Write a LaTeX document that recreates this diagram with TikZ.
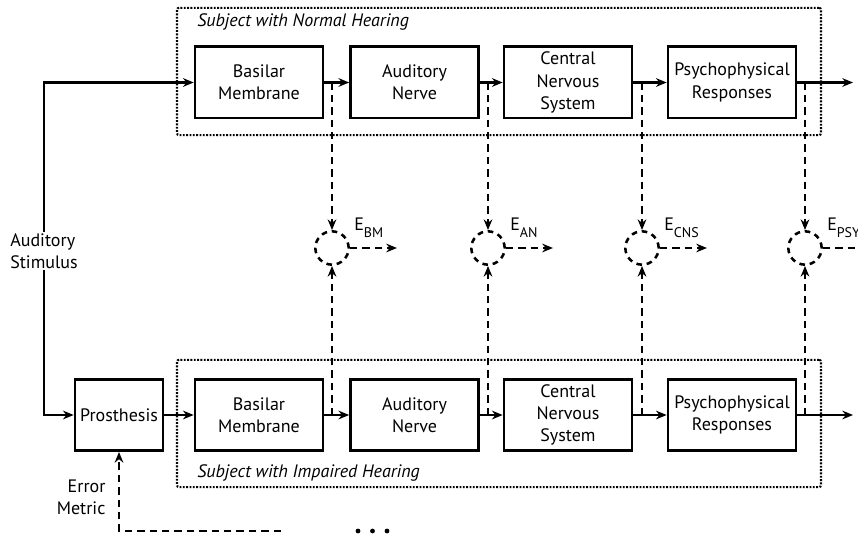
\documentclass[tikz,border=0pt]{standalone}
\usepackage{fontspec}
\setmainfont{PT Sans}
\usetikzlibrary{arrows.meta,calc}
\newcommand\esub[1]{E\raisebox{-0.4em}{\fontsize{10.5}{12}\selectfont #1}}
\tikzset{
  blk/.style={draw, line width=2pt, minimum width=96pt, minimum height=53.5pt, align=center, inner sep=1pt, font=\fontsize{13.5}{16.7}\selectfont},
  grp/.style={draw, line width=1.6pt, dash pattern=on 1.4pt off 1.1pt, rounded corners=1.5pt, minimum width=483pt, minimum height=95.5pt, inner sep=0pt},
  arr/.style={line width=1.6pt, -{Stealth[length=8pt,width=6.5pt]}},
  darr/.style={line width=1.9pt, dash pattern=on 5.5pt off 3.8pt, -{Stealth[length=8pt,width=6.5pt]}},
  cmp/.style={circle, draw, line width=1.9pt, dash pattern=on 4.2pt off 3.6pt, minimum size=25pt, inner sep=0pt},
  lbl/.style={font=\fontsize{13.5}{16.7}\selectfont, inner sep=1pt},
  grplbl/.style={font=\fontsize{13.5}{16}\selectfont\itshape, inner sep=0pt, anchor=west},
  elbl/.style={font=\fontsize{13.5}{16}\selectfont, inner sep=0pt, anchor=south west}
}
\begin{document}
\begin{tikzpicture}[x=0.75pt, y=-0.75pt]
\useasboundingbox (0,0) rectangle (858,535);
% groups
\node[grp] (gtop) at (499,71.5) {};
\node[grp] (gbot) at (499,423.5) {};
\node[grplbl] (ltop) at (197,22) {Subject with Normal Hearing};
\node[grplbl] (lbot) at (197,473) {Subject with Impaired Hearing};
% top row
\node[blk] (bm1) at (259,82.5) {Basilar\\Membrane};
\node[blk] (an1) at (414.5,82.5) {Auditory\\Nerve};
\node[blk] (cns1) at (568,82.5) {Central\\Nervous\\System};
\node[blk] (psy1) at (732,82.5) {Psychophysical\\Responses};
% bottom row
\node[blk, minimum width=66pt] (pro) at (119,415) {Prosthesis};
\node[blk] (bm2) at (259,415) {Basilar\\Membrane};
\node[blk] (an2) at (414.5,415) {Auditory\\Nerve};
\node[blk] (cns2) at (568,415) {Central\\Nervous\\System};
\node[blk] (psy2) at (732,415) {Psychophysical\\Responses};
% stimulus
\node[lbl, align=left] (stim) at (44,251) {Auditory\\Stimulus};
\draw[arr] (stim.north) |- (bm1.west);
\draw[arr] (stim.south) |- (pro.west);
% solid chain arrows
\draw[arr] (bm1) -- (an1);
\draw[arr] (an1) -- (cns1);
\draw[arr] (cns1) -- (psy1);
\coordinate (out1) at (853,82.5);
\draw[arr] (psy1.east) -- (out1);
\draw[arr] (pro) -- (bm2);
\draw[arr] (bm2) -- (an2);
\draw[arr] (an2) -- (cns2);
\draw[arr] (cns2) -- (psy2);
\coordinate (out2) at (853,415);
\draw[arr] (psy2.east) -- (out2);
% comparators
\foreach \i/\x/\lab in {1/332/BM, 2/488/AN, 3/642/CNS, 4/805/PSYCH} {
  \node[cmp] (c\i) at (\x,248) {};
  \coordinate (j\i) at (\x,82.5);
  \coordinate (k\i) at (\x,415);
  \draw[darr] (j\i) -- (c\i.north);
  \draw[darr] (k\i) -- (c\i.south);
  \coordinate (e\i) at ($(c\i.east)+(47,0)$);
  \draw[darr] (c\i.east) -- (e\i);
  \node[elbl] (E\i) at (\x+22,238) {\esub{\lab}};
}
% error metric
\node[lbl, align=right, anchor=east] (err) at (107,497) {Error\\Metric};
\coordinate (emend) at (281,531);
\draw[darr] (emend) -| (pro.south);
\foreach \x [count=\n] in {358,372.5,387} \fill (\x,531) circle (2.4);
\end{tikzpicture}
\end{document}
